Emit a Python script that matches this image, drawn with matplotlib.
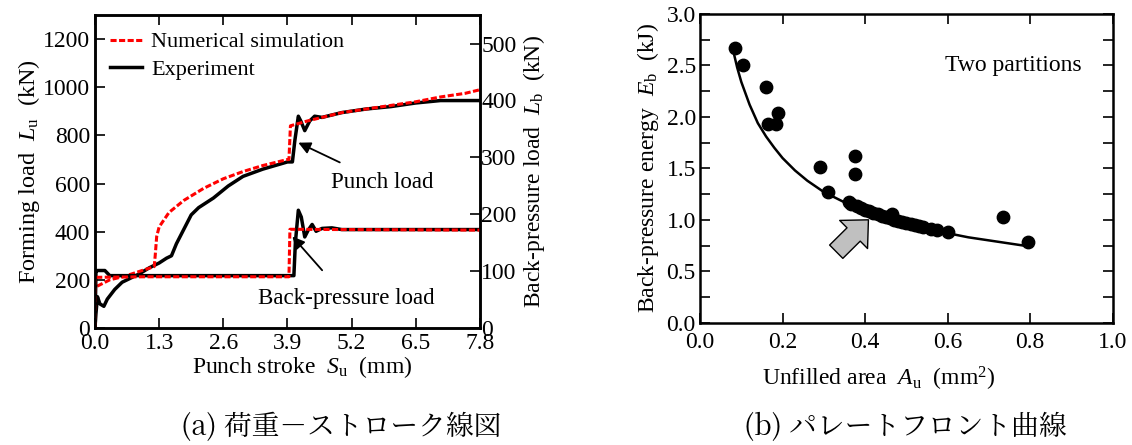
import matplotlib
matplotlib.use("Agg")
import matplotlib.pyplot as plt

plt.rcParams['font.family'] = 'serif'
plt.rcParams['font.serif'] = ['Liberation Serif', 'DejaVu Serif']
plt.rcParams['mathtext.fontset'] = 'custom'
plt.rcParams['mathtext.rm'] = 'Liberation Serif'
plt.rcParams['mathtext.it'] = 'Liberation Serif:italic'
plt.rcParams['font.size'] = 16

# (a) load-stroke curves
# punch load, left axis (kN)
punch_sim_x = [0.0, 0.01, 0.3, 0.6, 0.9, 1.2, 1.22, 1.25, 1.3, 1.5, 1.8, 2.2, 2.6, 3.0, 3.4, 3.9, 3.93, 3.96,
               4.3, 5.0, 5.5, 6.0, 6.5, 7.0, 7.5, 7.8]
punch_sim_y = [0, 170, 200, 215, 235, 255, 300, 380, 420, 480, 530, 580, 620, 650, 675, 700, 700, 840,
               860, 895, 910, 925, 940, 960, 975, 990]
punch_exp_x = [0.0, 0.02, 0.05, 0.1, 0.18, 0.25, 0.4, 0.55, 0.7, 0.9, 1.1, 1.3, 1.45, 1.55, 1.65, 1.8, 1.95,
               2.1, 2.4, 2.7, 3.0, 3.4, 3.9, 4.0, 4.05, 4.12, 4.17, 4.25, 4.35, 4.45, 4.6, 5.0, 5.5, 6.0,
               6.5, 7.0, 7.5, 7.8]
punch_exp_y = [0, 60, 130, 100, 90, 120, 160, 190, 205, 225, 250, 270, 290, 300, 350, 410, 470,
               500, 540, 590, 630, 660, 690, 690, 780, 880, 860, 820, 860, 880, 875, 895, 910, 920,
               935, 945, 945, 945]
# back-pressure load, right axis (kN)
back_sim_x = [0.0, 0.01, 1.0, 2.0, 3.0, 3.93, 3.95, 5.0, 6.5, 7.8]
back_sim_y = [0, 89, 90, 90, 90, 90, 173.5, 173, 172.5, 172]
back_exp_x = [0.0, 0.02, 0.05, 0.2, 0.3, 1.0, 2.0, 3.0, 4.03, 4.06, 4.12, 4.18, 4.25, 4.32, 4.4, 4.48,
              4.6, 4.8, 5.0, 6.5, 7.8]
back_exp_y = [0, 100, 101, 101, 92, 92, 92, 92, 92, 150, 207, 195, 160, 172, 182, 170,
              175, 176, 173, 173, 173]

# (b) pareto front
area = [0.085, 0.105, 0.16, 0.165, 0.183, 0.19, 0.29, 0.31, 0.36, 0.365, 0.375, 0.375, 0.38, 0.39,
        0.40, 0.41, 0.42, 0.43, 0.44, 0.45, 0.46, 0.465, 0.47, 0.48, 0.49, 0.50, 0.51, 0.52, 0.53,
        0.54, 0.56, 0.575, 0.60, 0.735, 0.795]
energy = [2.67, 2.50, 2.29, 1.93, 1.93, 2.04, 1.51, 1.27, 1.17, 1.15, 1.62, 1.45, 1.13, 1.11,
          1.10, 1.09, 1.07, 1.06, 1.04, 1.03, 1.02, 1.06, 1.00, 0.99, 0.98, 0.97, 0.96, 0.95, 0.94,
          0.93, 0.91, 0.90, 0.88, 1.03, 0.78]
fit_x = [0.08, 0.09, 0.10, 0.12, 0.14, 0.16, 0.18, 0.20, 0.23, 0.26, 0.30, 0.35, 0.40, 0.45,
         0.50, 0.55, 0.60, 0.65, 0.70, 0.75, 0.80]
fit_y = [2.65, 2.48, 2.34, 2.12, 1.94, 1.81, 1.70, 1.60, 1.48, 1.38, 1.27, 1.17, 1.08, 1.02,
         0.96, 0.92, 0.87, 0.83, 0.80, 0.77, 0.74]

fig = plt.figure(figsize=(11.32, 4.45), dpi=100)

# ---- (a) ----
ax = fig.add_axes([0.0839, 0.263, 0.3401, 0.703])
ax2 = ax.twinx()
ax.plot(punch_exp_x, punch_exp_y, color='black', lw=2.5, label='Experiment')
ax2.plot(back_exp_x, back_exp_y, color='black', lw=2.5)
ax.plot(punch_sim_x, punch_sim_y, color='red', lw=2.2, dashes=(2, 0.8), label='Numerical simulation')
ax2.plot(back_sim_x, back_sim_y, color='red', lw=2.2, dashes=(2, 0.8))

ax.set_xlim(0, 7.8)
ax.set_ylim(0, 1300)
ax2.set_ylim(0, 550)
ax.set_xticks([0.0, 1.3, 2.6, 3.9, 5.2, 6.5, 7.8])
ax.set_xticklabels(['0.0', '1.3', '2.6', '3.9', '5.2', '6.5', '7.8'])
ax.set_yticks(range(0, 1201, 200))
ax2.set_yticks(range(0, 501, 100))
ax.tick_params(direction='in', length=7, width=1.2, top=True, labelsize=17, pad=3.5)
ax2.tick_params(direction='in', length=7, width=1.2, labelsize=17, pad=1)
for a in (ax, ax2):
    for s in a.spines.values():
        s.set_linewidth(1.8)
ax.set_xlabel(r'Punch stroke  $S_{\rm u}$  (mm)', fontsize=17, labelpad=0)
ax.xaxis.label.set_x(0.538)
ax.set_ylabel(r'Forming load  $L_{\rm u}$  (kN)', fontsize=17.5, labelpad=1)
ax2.set_ylabel(r'Back-pressure load  $L_{\rm b}$  (kN)', fontsize=17, labelpad=3)

handles, labels = ax.get_legend_handles_labels()
ax.legend(handles[::-1], labels[::-1], loc='upper left', bbox_to_anchor=(0.016, 0.975),
          frameon=False, fontsize=16, handlelength=1.45, handletextpad=0.4,
          borderaxespad=0, labelspacing=0.3)

ax.annotate('Punch load', xy=(4.12, 770), xytext=(5.83, 603), ha='center', va='center', fontsize=16.5,
            arrowprops=dict(arrowstyle='-|>', color='black', lw=1.3, mutation_scale=18,
                            shrinkA=12, shrinkB=0))
ax.annotate('Back-pressure load', xy=(4.0, 380), xytext=(5.1, 124), ha='center', va='center',
            fontsize=16.5,
            arrowprops=dict(arrowstyle='-|>', color='black', lw=1.3, mutation_scale=18,
                            shrinkA=14, shrinkB=0))

# ---- (b) ----
bx = fig.add_axes([0.6184, 0.2748, 0.3646, 0.6937])
bx.plot(fit_x, fit_y, color='black', lw=1.8)
bx.scatter(area, energy, s=80, color='black', zorder=3)
bx.annotate('', xy=(0.408, 1.0), xytext=(0.33, 0.69),
            arrowprops=dict(arrowstyle='simple,head_width=0.95,head_length=0.5,tail_width=0.45',
                            fc='#c0c0c0', ec='black', lw=1, mutation_scale=30, shrinkA=0, shrinkB=0))
bx.text(0.76, 2.5, 'Two partitions', ha='center', va='center', fontsize=17)
bx.set_xlim(0, 1.0)
bx.set_ylim(0, 3.0)
bx.set_xticks([0.0, 0.2, 0.4, 0.6, 0.8, 1.0])
bx.set_yticks([0.0, 0.5, 1.0, 1.5, 2.0, 2.5, 3.0])
bx.set_yticks([0.25, 0.75, 1.25, 1.75, 2.25, 2.75], minor=True)
bx.set_xticklabels(['0.0', '0.2', '0.4', '0.6', '0.8', '1.0'])
bx.set_yticklabels(['0.0', '0.5', '1.0', '1.5', '2.0', '2.5', '3.0'])
bx.tick_params(which='both', direction='in', length=7, width=1.2, top=True, right=True,
               labelsize=17, pad=3)
bx.tick_params(axis='x', pad=7)
for s in bx.spines.values():
    s.set_linewidth(1.8)
bx.set_xlabel(r'Unfilled area  $A_{\rm u}$  (mm$^2$)', fontsize=17, labelpad=8)
bx.xaxis.label.set_x(0.434)
bx.set_ylabel(r'Back-pressure energy  $E_{\rm b}$  (kJ)', fontsize=17, labelpad=4)

# captions
fig.text(0.301, 0.04, '(a) 荷重－ストローク線図', ha='center', va='center', fontsize=20,
         family=['Noto Serif CJK JP', 'Liberation Serif'])
fig.text(0.7995, 0.04, '(b) パレートフロント曲線', ha='center', va='center', fontsize=20,
         family=['Noto Serif CJK JP', 'Liberation Serif'])

fig.savefig('out.png', dpi=100)
